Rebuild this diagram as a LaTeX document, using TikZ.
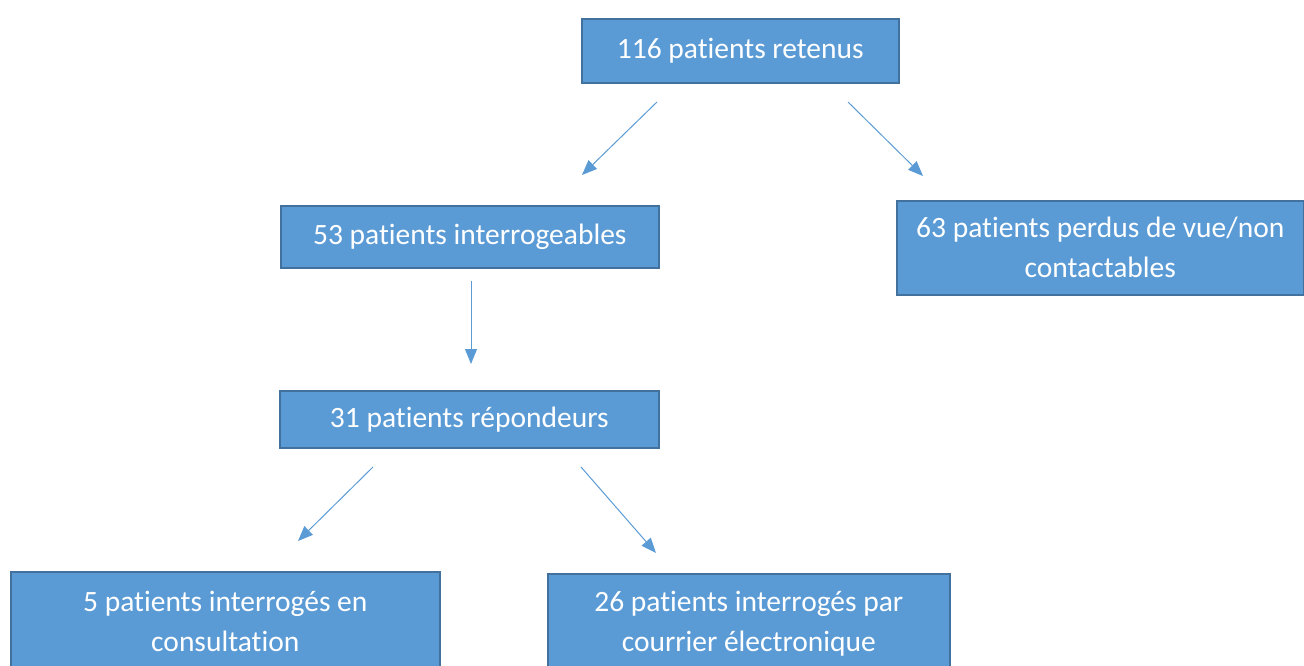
\documentclass[tikz,border=0pt]{standalone}
\usepackage{fontspec}
\setmainfont{Carlito}[Ligatures=NoCommon]
\usetikzlibrary{arrows.meta}
\definecolor{boxfill}{HTML}{5B9BD5}
\definecolor{boxline}{HTML}{41719C}
\tikzset{
  flowbox/.style={draw=boxline, line width=1.6pt, fill=boxfill, text=white,
    anchor=north west, inner sep=0pt, align=center,
    font=\fontsize{29.5}{40}\selectfont},
  flowarrow/.style={draw=boxfill, line width=1pt,
    -{Triangle[length=15pt,width=12pt]}}
}
\begin{document}
\begin{tikzpicture}[x=1pt,y=-1pt]
\useasboundingbox (0,0) rectangle (1304,666);
\clip (0,0) rectangle (1304,666);
\node[flowbox, minimum width=317pt, minimum height=64pt] (b1) at (581,18) {116 patients retenus};
\node[flowbox, minimum width=378pt, minimum height=62pt] (b2) at (280,205) {53 patients interrogeables};
\node[flowbox, minimum width=407pt, minimum height=94pt] (b3) at (896,200) {63 patients perdus de vue/non\\contactables};
\node[flowbox, minimum width=379pt, minimum height=57pt] (b4) at (279,390) {31 patients répondeurs};
\node[flowbox, minimum width=429pt, minimum height=100pt] (b5) at (10,571) {5 patients interrogés en\\consultation};
\node[flowbox, minimum width=402pt, minimum height=100pt] (b6) at (547,573) {26 patients interrogés par\\courrier électronique};
\coordinate (a1s) at (657,102); \coordinate (a1e) at (582,175);
\coordinate (a2s) at (848,102); \coordinate (a2e) at (923,176);
\coordinate (a3s) at (471,281); \coordinate (a3e) at (471,364);
\coordinate (a4s) at (373,467); \coordinate (a4e) at (298,541);
\coordinate (a5s) at (581,467); \coordinate (a5e) at (656,553);
\draw[flowarrow] (a1s) -- (a1e);
\draw[flowarrow] (a2s) -- (a2e);
\draw[flowarrow] (a3s) -- (a3e);
\draw[flowarrow] (a4s) -- (a4e);
\draw[flowarrow] (a5s) -- (a5e);
\end{tikzpicture}
\end{document}
